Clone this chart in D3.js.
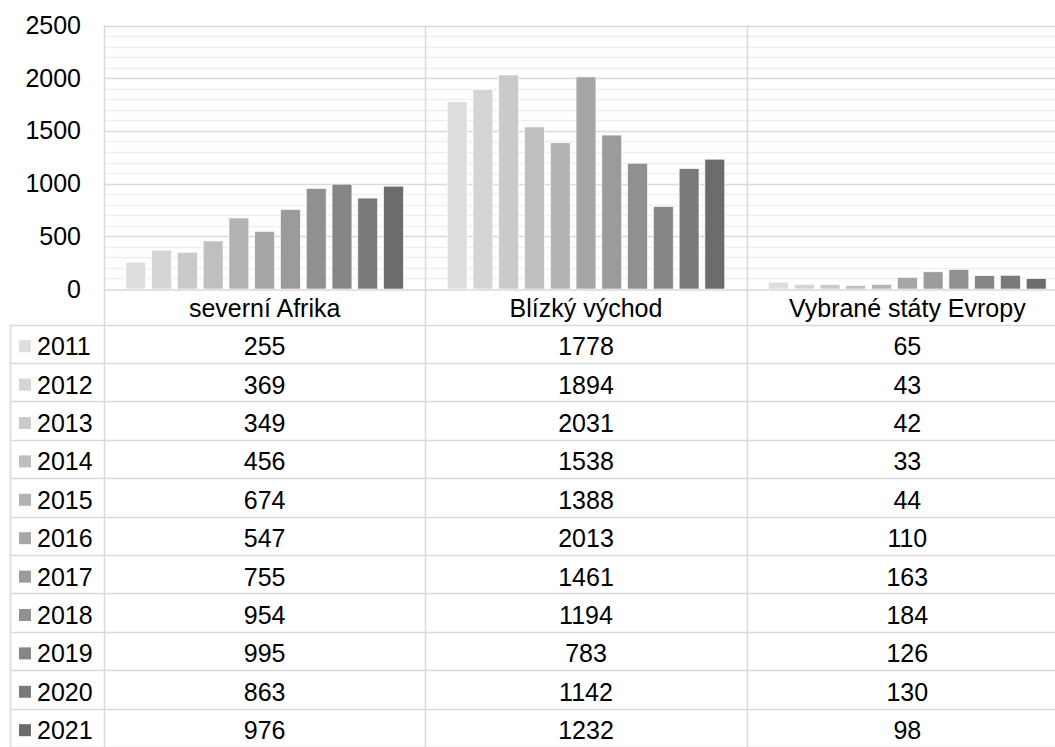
<!DOCTYPE html>
<html>
<head>
<meta charset="utf-8">
<script src="https://cdn.jsdelivr.net/npm/d3@7"></script>
<style>
  body { margin: 0; background: #fff; }
  text { font-family: "Liberation Sans", Arial, sans-serif; fill: #000; }
</style>
</head>
<body>
<div id="chart"></div>
<script>
// data
var categories = ["severní Afrika", "Blízký východ", "Vybrané státy Evropy"];
var years = ["2011", "2012", "2013", "2014", "2015", "2016", "2017", "2018", "2019", "2020", "2021"];
var severniAfrika = [255, 369, 349, 456, 674, 547, 755, 954, 995, 863, 976];
var blizkyVychod = [1778, 1894, 2031, 1538, 1388, 2013, 1461, 1194, 783, 1142, 1232];
var evropa = [65, 43, 42, 33, 44, 110, 163, 184, 126, 130, 98];
var yTicks = [0, 500, 1000, 1500, 2000, 2500];
var grays = ["#dedede", "#d5d5d5", "#cacaca", "#bfbfbf", "#b3b3b3", "#a6a6a6", "#9b9b9b", "#909090", "#868686", "#7a7a7a", "#6c6c6c"];

var seriesByCat = [severniAfrika, blizkyVychod, evropa];

var svgWidth = 1055;
var svgHeight = 747;
var fontSize = "25px";

var svg = d3.select("#chart")
  .append("svg")
  .attr("width", svgWidth)
  .attr("height", svgHeight);

// plot area
var plot = { left: 104, right: 1068, top: 25.6, bottom: 289 };
var rowTop = 324.5;
var rowH = 38.4;
var tableLeft = 10;

var x0 = d3.scaleBand()
  .domain(categories)
  .range([plot.left, plot.right]);

var x1 = d3.scaleBand()
  .domain(years)
  .range([0, x0.bandwidth()])
  .paddingInner(0.23)
  .paddingOuter(0.85);

var y = d3.scaleLinear()
  .domain([0, 2500])
  .range([plot.bottom, plot.top]);

var color = d3.scaleOrdinal().domain(years).range(grays);

// minor gridlines every 100
var minor = d3.range(100, 2500, 100).filter(d => d % 500 !== 0);
svg.append("g").selectAll("line").data(minor).enter()
  .append("line")
  .attr("x1", plot.left).attr("x2", plot.right)
  .attr("y1", d => Math.round(y(d)) + 0.5).attr("y2", d => Math.round(y(d)) + 0.5)
  .attr("stroke", "#efefef").attr("stroke-width", 1.5);

// major gridlines
svg.append("g").selectAll("line").data(yTicks.slice(1)).enter()
  .append("line")
  .attr("x1", plot.left).attr("x2", plot.right)
  .attr("y1", d => Math.round(y(d)) + 0.5).attr("y2", d => Math.round(y(d)) + 0.5)
  .attr("stroke", "#d9d9d9").attr("stroke-width", 1.5);

// y axis labels
var yAxis = d3.axisLeft(y).tickValues(yTicks).tickFormat(d3.format("d")).tickSize(0).tickPadding(0);
var gy = svg.append("g")
  .attr("transform", "translate(81,0)")
  .call(yAxis);
gy.select(".domain").remove();
gy.attr("font-size", null).attr("font-family", null);
gy.selectAll("text")
  .style("font-size", fontSize)
  .attr("fill", "#000");

// bars
var groups = svg.append("g").selectAll("g").data(categories).enter()
  .append("g")
  .attr("transform", d => `translate(${x0(d)},0)`);

groups.selectAll("rect")
  .data((c, i) => years.map((yr, j) => ({ year: yr, value: seriesByCat[i][j] })))
  .enter()
  .append("rect")
  .attr("x", d => x1(d.year))
  .attr("width", x1.bandwidth())
  .attr("y", d => y(d.value))
  .attr("height", d => y(0) - y(d.value))
  .attr("fill", d => color(d.year))
  .attr("stroke", "#ffffff")
  .attr("stroke-width", 0.6);

// table grid
var lineColor = "#d9d9d9";
var tableBottom = rowTop + rowH * years.length;

// vertical lines at category boundaries (from top of plot to bottom of table)
var vx = categories.map(c => x0(c)).concat([plot.right]);
svg.append("g").selectAll("line").data(vx).enter()
  .append("line")
  .attr("x1", d => Math.round(d) + 0.5).attr("x2", d => Math.round(d) + 0.5)
  .attr("y1", plot.top).attr("y2", tableBottom + 5)
  .attr("stroke", lineColor).attr("stroke-width", 1.5);

// line under plot (axis) and row lines
svg.append("line")
  .attr("x1", plot.left).attr("x2", plot.right)
  .attr("y1", plot.bottom + 1).attr("y2", plot.bottom + 1)
  .attr("stroke", lineColor).attr("stroke-width", 1.5);

var rowLines = d3.range(0, years.length + 1);
svg.append("g").selectAll("line").data(rowLines).enter()
  .append("line")
  .attr("x1", tableLeft).attr("x2", plot.right)
  .attr("y1", d => Math.round(rowTop + d * rowH) + 0.5)
  .attr("y2", d => Math.round(rowTop + d * rowH) + 0.5)
  .attr("stroke", lineColor).attr("stroke-width", 1.5);

svg.append("line")
  .attr("x1", tableLeft + 0.5).attr("x2", tableLeft + 0.5)
  .attr("y1", rowTop).attr("y2", tableBottom + 5)
  .attr("stroke", lineColor).attr("stroke-width", 1.5);

// category labels
svg.append("g").selectAll("text").data(categories).enter()
  .append("text")
  .attr("x", d => x0(d) + x0.bandwidth() / 2)
  .attr("y", (plot.bottom + rowTop) / 2 + 1)
  .attr("dy", "0.35em")
  .attr("text-anchor", "middle")
  .style("font-size", fontSize)
  .text(d => d);

// legend column
var rows = svg.append("g").selectAll("g").data(years).enter()
  .append("g")
  .attr("transform", (d, i) => `translate(0,${rowTop + i * rowH + rowH / 2 + 2.5})`);

rows.append("rect")
  .attr("x", 19).attr("y", -6)
  .attr("width", 12).attr("height", 12)
  .attr("fill", d => color(d));

rows.append("text")
  .attr("x", 37)
  .attr("dy", "0.36em")
  .style("font-size", fontSize)
  .text(d => d);

// values
rows.each(function(yr, j) {
  d3.select(this).selectAll("text.val")
    .data(categories)
    .enter()
    .append("text")
    .attr("class", "val")
    .attr("x", c => x0(c) + x0.bandwidth() / 2)
    .attr("dy", "0.36em")
    .attr("text-anchor", "middle")
    .style("font-size", fontSize)
    .text((c, i) => seriesByCat[i][j]);
});
</script>
</body>
</html>
